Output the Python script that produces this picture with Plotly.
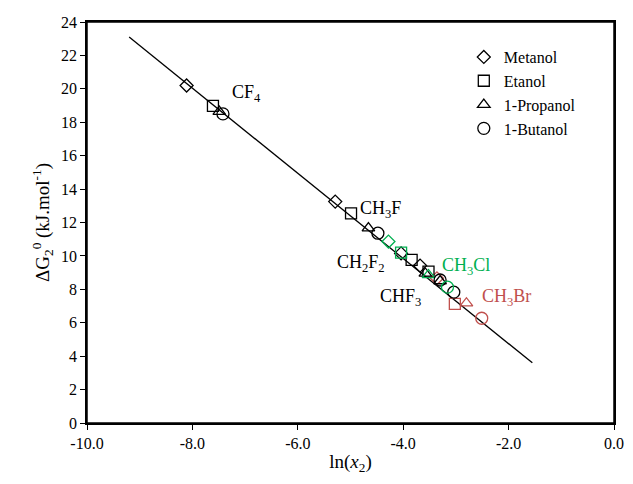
import plotly.graph_objects as go

compounds = ["CF4", "CH3F", "CH2F2", "CHF3", "CH3Cl", "CH3Br"]
colors = ["#000000", "#000000", "#000000", "#000000", "#00B050", "#C0504D"]

# ln(x2) and dG values per solvent, ordered as compounds
metanol_x = [-8.11, -5.29, -4.04, -3.68, -4.28, -3.36]
metanol_y = [20.20, 13.25, 10.15, 9.42, 10.86, 8.66]
etanol_x = [-7.61, -4.99, -3.84, -3.52, -4.04, -3.02]
etanol_y = [18.98, 12.55, 9.76, 9.06, 10.20, 7.13]
propanol_x = [-7.49, -4.66, -3.58, -3.30, -3.52, -2.80]
propanol_y = [18.64, 11.66, 8.95, 8.50, 8.86, 7.17]
butanol_x = [-7.42, -4.48, -3.30, -3.04, -3.16, -2.51]
butanol_y = [18.50, 11.36, 8.56, 7.83, 8.13, 6.27]

line_x = [-9.2, -1.55]
line_y = [23.1, 3.6]

x_ticks = [-10, -8, -6, -4, -2, 0]
x_ticklabels = ["-10.0", "-8.0", "-6.0", "-4.0", "-2.0", "0.0"]

labels = ["CF<sub>4</sub>", "CH<sub>3</sub>F", "CH<sub>2</sub>F<sub>2</sub>", "CHF<sub>3</sub>",
          "CH<sub>3</sub>Cl", "CH<sub>3</sub>Br"]
label_x = [-7.28, -4.86, -5.30, -4.48, -3.30, -2.55]
label_y = [19.7, 12.75, 9.55, 7.5, 9.35, 7.5]
label_colors = ["#000000", "#000000", "#000000", "#000000", "#00B050", "#C0504D"]

FONT = "Liberation Serif, Times New Roman, serif"

fig = go.Figure()
fig.add_trace(go.Scatter(x=line_x, y=line_y, mode="lines",
                         line=dict(color="black", width=1.3), showlegend=False,
                         hoverinfo="skip"))

series = [
    ("Metanol", metanol_x, metanol_y, "diamond-open", 10),
    ("Etanol", etanol_x, etanol_y, "square-open", 11),
    ("1-Propanol", propanol_x, propanol_y, "triangle-up-open", 11),
    ("1-Butanol", butanol_x, butanol_y, "circle-open", 12),
]
for name, xs, ys, sym, sz in series:
    fig.add_trace(go.Scatter(x=xs, y=ys, mode="markers", name=name,
                             marker=dict(symbol=sym, size=sz, color=colors,
                                         line=dict(width=1.3))))

for t, x, y, c in zip(labels, label_x, label_y, label_colors):
    fig.add_annotation(x=x, y=y, text=t, showarrow=False, xanchor="left",
                       yanchor="middle", font=dict(family=FONT, size=18, color=c))

fig.update_layout(
    width=633, height=484,
    margin=dict(l=87, r=19, t=22, b=61, autoexpand=False),
    plot_bgcolor="white", paper_bgcolor="white",
    font=dict(family=FONT, size=16, color="black"),
    legend=dict(x=0.715, y=0.955, xanchor="left", yanchor="top",
                bgcolor="rgba(0,0,0,0)", font=dict(size=16),
                tracegroupgap=0),
    xaxis=dict(range=[-10, 0], tickvals=x_ticks, ticktext=x_ticklabels,
               ticks="outside", ticklen=5, tickcolor="black", automargin=False,
               showline=True, linecolor="black", linewidth=1.5, mirror=True,
               showgrid=False, zeroline=False,
               title=dict(text="ln(<i>x</i><sub>2</sub>)", standoff=4)),
    yaxis=dict(range=[0, 24], tick0=0, dtick=2, automargin=False,
               ticks="outside", ticklen=5, tickcolor="black",
               showline=True, linecolor="black", linewidth=1.5, mirror=True,
               showgrid=False, zeroline=False,
               title=dict(text="ΔG<sub>2</sub><sup>0</sup> (kJ.mol<sup>-1</sup>)", standoff=6)),
)
fig.add_shape(type="rect", xref="paper", yref="paper", x0=0, y0=0, x1=1, y1=1,
              line=dict(color="black", width=1.5), layer="above")

fig.write_html("out.html")
